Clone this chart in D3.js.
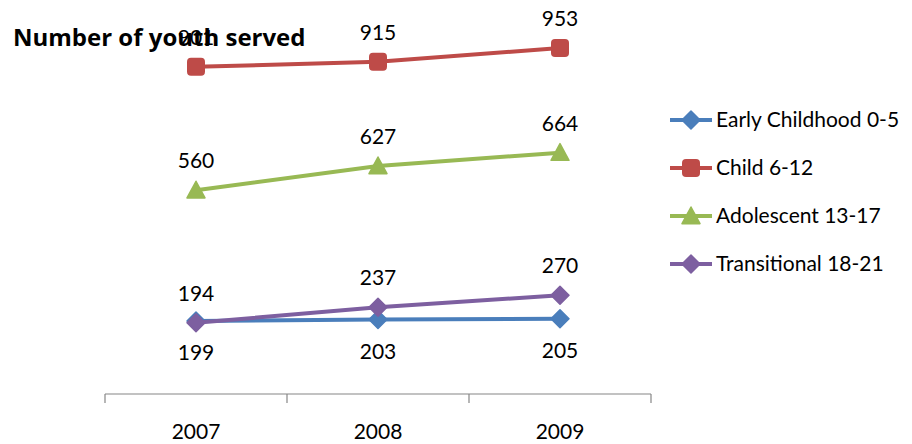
<!DOCTYPE html>
<html>
<head>
<meta charset="utf-8">
<script src="https://cdn.jsdelivr.net/npm/d3@7"></script>
<style>
  body { margin: 0; background: #fff; }
  svg { display: block; font-family: Lato, "Open Sans", sans-serif; }
</style>
</head>
<body>
<div id="chart"></div>
<script>
// chart data
const years = ['2007', '2008', '2009'];
const seriesNames = ['Early Childhood 0-5', 'Child 6-12', 'Adolescent 13-17', 'Transitional 18-21'];
const earlyChildhood = [199, 203, 205];
const child = [901, 915, 953];
const adolescent = [560, 627, 664];
const transitional = [194, 237, 270];
const colors = ['#4A7EBB', '#BE4B48', '#98B954', '#7D5FA0'];
const markers = ['diamond', 'square', 'triangle', 'diamond'];
const labelSide = ['below', 'above', 'above', 'above'];

const width = 912, height = 444;
const fontSize = 21;

const svg = d3.select('#chart').append('svg')
    .attr('width', width)
    .attr('height', height);

const x = d3.scaleBand().domain(years).range([105, 651]).padding(0);
const y = d3.scaleLinear().domain([0, 1000]).range([393, 31]);

// x axis
const axisY = 394;
const xAxis = svg.append('g').attr('transform', `translate(0,${axisY})`)
    .call(d3.axisBottom(x).tickSize(0).tickPadding(0));
xAxis.select('.domain').remove();
xAxis.selectAll('text')
    .attr('dy', null)
    .attr('y', 45)
    .attr('font-size', fontSize)
    .attr('font-family', 'Lato, "Open Sans", sans-serif')
    .attr('fill', '#000');

svg.append('line')
    .attr('x1', 105).attr('x2', 651)
    .attr('y1', axisY).attr('y2', axisY)
    .attr('stroke', '#868686').attr('stroke-width', 1.2);

const bounds = years.map(d => x(d)).concat([x(years[years.length - 1]) + x.bandwidth()]);
svg.selectAll('.tick-mark').data(bounds).join('line')
    .attr('class', 'tick-mark')
    .attr('x1', d => d).attr('x2', d => d)
    .attr('y1', axisY).attr('y2', axisY + 9)
    .attr('stroke', '#868686').attr('stroke-width', 1.2);

const series = [earlyChildhood, child, adolescent, transitional].map((vals, i) => ({
    name: seriesNames[i],
    color: colors[i],
    marker: markers[i],
    side: labelSide[i],
    values: vals.map((v, j) => ({ year: years[j], value: v }))
}));

function markerPath(type, s) {
    if (type === 'diamond') return `M0,${-s}L${s},0L0,${s}L${-s},0Z`;
    if (type === 'triangle') return `M0,${-s}L${s},${s * 0.85}L${-s},${s * 0.85}Z`;
    return null;
}

function drawMarker(g, type, color, cx, cy) {
    if (type === 'square') {
        g.append('rect')
            .attr('x', cx - 9).attr('y', cy - 9)
            .attr('width', 18).attr('height', 18)
            .attr('rx', 4)
            .attr('fill', color);
    } else {
        g.append('path')
            .attr('d', markerPath(type, 9))
            .attr('transform', `translate(${cx},${cy})`)
            .attr('fill', color)
            .attr('stroke', color)
            .attr('stroke-width', 1.5)
            .attr('stroke-linejoin', 'round');
    }
}

const line = d3.line()
    .x(d => x(d.year) + x.bandwidth() / 2)
    .y(d => y(d.value));

// draw in order: red, green, blue, purple on top
const drawOrder = [1, 2, 0, 3];
drawOrder.forEach(i => {
    const s = series[i];
    const g = svg.append('g');
    g.append('path')
        .datum(s.values)
        .attr('d', line)
        .attr('fill', 'none')
        .attr('stroke', s.color)
        .attr('stroke-width', 4);
    s.values.forEach(d => {
        drawMarker(g, s.marker, s.color, x(d.year) + x.bandwidth() / 2, y(d.value));
    });
});

// data labels
series.forEach(s => {
    svg.append('g').selectAll('text').data(s.values).join('text')
        .attr('x', d => x(d.year) + x.bandwidth() / 2)
        .attr('y', d => s.side === 'above' ? y(d.value) - 22 : y(d.value) + 39)
        .attr('text-anchor', 'middle')
        .attr('font-size', fontSize)
        .attr('fill', '#000')
        .text(d => d.value);
});

// title
svg.append('text')
    .attr('x', 13).attr('y', 46)
    .attr('font-size', 24)
    .attr('font-family', '"Open Sans", sans-serif')
    .attr('font-weight', 'bold')
    .attr('fill', '#000')
    .text('Number of youth served');

// legend
const legendY = [120, 168, 216, 264];
const legend = svg.append('g');
series.forEach((s, i) => {
    const g = legend.append('g');
    g.append('line')
        .attr('x1', 670).attr('x2', 712)
        .attr('y1', legendY[i]).attr('y2', legendY[i])
        .attr('stroke', s.color).attr('stroke-width', 4);
    drawMarker(g, s.marker, s.color, 691, legendY[i]);
    g.append('text')
        .attr('x', 716).attr('y', legendY[i] + 7)
        .attr('font-size', fontSize)
        .attr('fill', '#000')
        .text(s.name);
});
</script>
</body>
</html>
